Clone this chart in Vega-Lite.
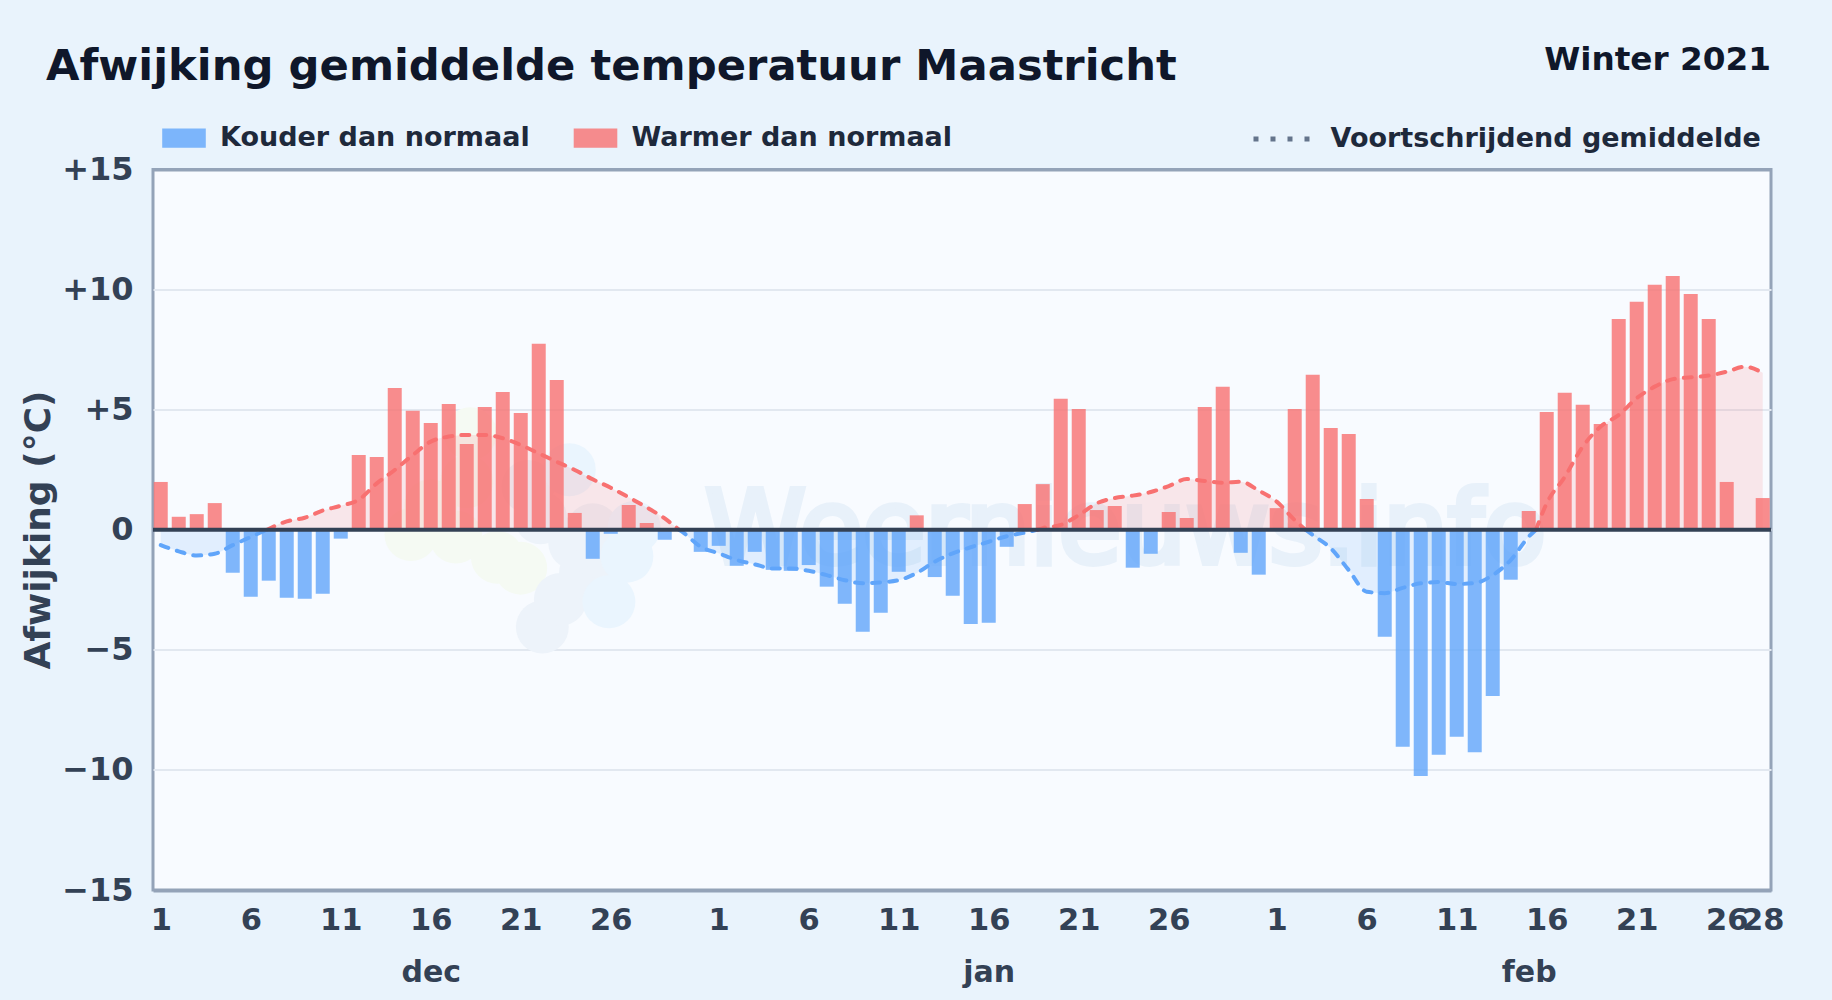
{
"$schema":"https://vega.github.io/schema/vega-lite/v6.json",
"width":1618,"height":720.5,
"autosize":{"type":"none"},
"padding":{"left":153,"top":169.5,"right":61,"bottom":110},
"background":"#e9f3fc",
"view":{"fill":"#f8fbff","stroke":"#94a3b8","strokeWidth":3},
"title":{"text":"Afwijking gemiddelde temperatuur Maastricht","anchor":"start","frame":"group","dx":-107,"offset":-45,"font":"DejaVu Sans","fontSize":43.3,"fontWeight":"bold","color":"#0f172a"},
"config":{"font":"DejaVu Sans"},
"resolve":{"axis":{"x":"independent"}},
"datasets":{
"bars":[
{"day":0,"value":1.99},{"day":1,"value":0.54},{"day":2,"value":0.65},{"day":3,"value":1.11},{"day":4,"value":-1.79},{"day":5,"value":-2.79},{"day":6,"value":-2.12},{"day":7,"value":-2.83},{"day":8,"value":-2.87},{"day":9,"value":-2.67},{"day":10,"value":-0.37},{"day":11,"value":3.11},{"day":12,"value":3.03},{"day":13,"value":5.9},{"day":14,"value":4.95},{"day":15,"value":4.45},{"day":16,"value":5.24},{"day":17,"value":3.57},{"day":18,"value":5.11},{"day":19,"value":5.74},{"day":20,"value":4.86},{"day":21,"value":7.74},{"day":22,"value":6.24},{"day":23,"value":0.7},{"day":24,"value":-1.21},{"day":25,"value":-0.17},{"day":26,"value":1.03},{"day":27,"value":0.28},{"day":28,"value":-0.42},{"day":30,"value":-0.92},
{"day":31,"value":-0.67},{"day":32,"value":-1.5},{"day":33,"value":-0.92},{"day":34,"value":-1.67},{"day":35,"value":-1.71},{"day":36,"value":-1.47},{"day":37,"value":-2.37},{"day":38,"value":-3.08},{"day":39,"value":-4.25},{"day":40,"value":-3.46},{"day":41,"value":-1.75},{"day":42,"value":0.6},{"day":43,"value":-1.97},{"day":44,"value":-2.75},{"day":45,"value":-3.92},{"day":46,"value":-3.87},{"day":47,"value":-0.71},{"day":48,"value":1.07},{"day":49,"value":1.9},{"day":50,"value":5.45},{"day":51,"value":5.03},{"day":52,"value":0.82},{"day":53,"value":0.99},{"day":54,"value":-1.58},{"day":55,"value":-1.0},{"day":56,"value":0.74},{"day":57,"value":0.49},{"day":58,"value":5.11},{"day":59,"value":5.95},{"day":60,"value":-0.96},{"day":61,"value":-1.87},
{"day":62,"value":0.9},{"day":63,"value":5.03},{"day":64,"value":6.45},{"day":65,"value":4.24},{"day":66,"value":3.99},{"day":67,"value":1.28},{"day":68,"value":-4.46},{"day":69,"value":-9.04},{"day":70,"value":-10.25},{"day":71,"value":-9.37},{"day":72,"value":-8.62},{"day":73,"value":-9.26},{"day":74,"value":-6.92},{"day":75,"value":-2.08},{"day":76,"value":0.78},{"day":77,"value":4.9},{"day":78,"value":5.7},{"day":79,"value":5.2},{"day":80,"value":4.4},{"day":81,"value":8.78},{"day":82,"value":9.49},{"day":83,"value":10.2},{"day":84,"value":10.57},{"day":85,"value":9.82},{"day":86,"value":8.78},{"day":87,"value":1.99},{"day":89,"value":1.32}
],
"avg":[
{"day":0,"ma":-0.64,"seg":1},{"day":1,"ma":-0.9,"seg":1},{"day":2,"ma":-1.07,"seg":1},{"day":3,"ma":-1.0,"seg":1},{"day":4,"ma":-0.64,"seg":1},{"day":5,"ma":-0.3,"seg":1},{"day":5.9,"ma":0,"seg":1},
{"day":5.9,"ma":0,"seg":2},{"day":7,"ma":0.35,"seg":2},{"day":8,"ma":0.5,"seg":2},{"day":9,"ma":0.8,"seg":2},{"day":10,"ma":1.0,"seg":2},{"day":11,"ma":1.25,"seg":2},{"day":12,"ma":1.93,"seg":2},{"day":13,"ma":2.49,"seg":2},{"day":14,"ma":3.11,"seg":2},{"day":15,"ma":3.67,"seg":2},{"day":16,"ma":3.88,"seg":2},{"day":17,"ma":3.95,"seg":2},{"day":18,"ma":3.95,"seg":2},{"day":19,"ma":3.81,"seg":2},{"day":20,"ma":3.53,"seg":2},{"day":21,"ma":3.18,"seg":2},{"day":22,"ma":2.83,"seg":2},{"day":23,"ma":2.49,"seg":2},{"day":24,"ma":2.1,"seg":2},{"day":25,"ma":1.75,"seg":2},{"day":26,"ma":1.35,"seg":2},{"day":27,"ma":0.93,"seg":2},{"day":28,"ma":0.47,"seg":2},{"day":28.8,"ma":0,"seg":2},
{"day":28.8,"ma":0,"seg":3},{"day":29,"ma":-0.1,"seg":3},{"day":30,"ma":-0.71,"seg":3},{"day":31,"ma":-0.98,"seg":3},{"day":32,"ma":-1.26,"seg":3},{"day":33,"ma":-1.44,"seg":3},{"day":34,"ma":-1.61,"seg":3},{"day":35,"ma":-1.61,"seg":3},{"day":36,"ma":-1.71,"seg":3},{"day":37,"ma":-1.89,"seg":3},{"day":38,"ma":-2.1,"seg":3},{"day":39,"ma":-2.23,"seg":3},{"day":40,"ma":-2.19,"seg":3},{"day":41,"ma":-2.1,"seg":3},{"day":42,"ma":-1.8,"seg":3},{"day":43,"ma":-1.33,"seg":3},{"day":44,"ma":-0.98,"seg":3},{"day":45,"ma":-0.73,"seg":3},{"day":46,"ma":-0.5,"seg":3},{"day":47,"ma":-0.27,"seg":3},{"day":48,"ma":-0.12,"seg":3},{"day":48.7,"ma":0,"seg":3},
{"day":48.7,"ma":0,"seg":4},{"day":49,"ma":0.07,"seg":4},{"day":50,"ma":0.2,"seg":4},{"day":51,"ma":0.61,"seg":4},{"day":52,"ma":1.1,"seg":4},{"day":53,"ma":1.32,"seg":4},{"day":54,"ma":1.42,"seg":4},{"day":55,"ma":1.57,"seg":4},{"day":56,"ma":1.82,"seg":4},{"day":57,"ma":2.11,"seg":4},{"day":58,"ma":2.03,"seg":4},{"day":59,"ma":1.96,"seg":4},{"day":60,"ma":2.0,"seg":4},{"day":61,"ma":1.63,"seg":4},{"day":62,"ma":1.17,"seg":4},{"day":63,"ma":0.4,"seg":4},{"day":63.6,"ma":0,"seg":4},
{"day":63.6,"ma":0,"seg":5},{"day":64,"ma":-0.22,"seg":5},{"day":65,"ma":-0.77,"seg":5},{"day":66,"ma":-1.68,"seg":5},{"day":67,"ma":-2.58,"seg":5},{"day":68,"ma":-2.64,"seg":5},{"day":69,"ma":-2.42,"seg":5},{"day":70,"ma":-2.23,"seg":5},{"day":71,"ma":-2.18,"seg":5},{"day":72,"ma":-2.26,"seg":5},{"day":73,"ma":-2.22,"seg":5},{"day":74,"ma":-1.89,"seg":5},{"day":75,"ma":-1.26,"seg":5},{"day":76,"ma":-0.29,"seg":5},{"day":76.4,"ma":0,"seg":5},
{"day":76.4,"ma":0,"seg":6},{"day":77,"ma":1.1,"seg":6},{"day":78,"ma":2.2,"seg":6},{"day":79,"ma":3.46,"seg":6},{"day":80,"ma":4.3,"seg":6},{"day":81,"ma":4.78,"seg":6},{"day":82,"ma":5.48,"seg":6},{"day":83,"ma":5.96,"seg":6},{"day":84,"ma":6.27,"seg":6},{"day":85,"ma":6.35,"seg":6},{"day":86,"ma":6.42,"seg":6},{"day":87,"ma":6.58,"seg":6},{"day":88,"ma":6.79,"seg":6},{"day":89,"ma":6.54,"seg":6}
],
"logoGrey":[{"day":21.2,"dev":-4.05},{"day":22.2,"dev":-2.9},{"day":23.6,"dev":-1.8},{"day":24.2,"dev":-0.9},{"day":23,"dev":-0.55},{"day":21.1,"dev":0.5},{"day":20.4,"dev":1.8},{"day":24,"dev":0}],
"logoBlue":[{"day":24.9,"dev":-3.0},{"day":25.9,"dev":-1.1},{"day":26.3,"dev":0.1},{"day":22.7,"dev":2.5}],
"logoGreen":[{"day":13.9,"dev":-0.2},{"day":16.4,"dev":-0.3},{"day":20,"dev":-1.6},{"day":18.7,"dev":-1.15},{"day":17.2,"dev":4},{"day":17,"dev":2},{"day":15,"dev":1}]
},
"layer":[
{"data":{"name":"logoGreen"},"mark":{"type":"point","filled":true,"shape":"circle","size":2800,"opacity":1,"color":"#f5faf3"},"encoding":{"x":{"field":"day","type":"quantitative","scale":{"domain":[-0.43,89.46],"nice":false,"zero":false,"padding":0},"axis":null},"y":{"field":"dev","type":"quantitative","scale":{"domain":[-15,15],"nice":false},"axis":{"values":[-15,-10,-5,0,5,10,15],"labelExpr":"datum.value>0?'+'+datum.value:(datum.value<0?'−'+abs(datum.value):'0')","labelFont":"DejaVu Sans","labelFontSize":32,"labelFontWeight":"bold","labelColor":"#334155","labelPadding":20,"ticks":false,"domain":false,"grid":true,"gridColor":{"condition":{"test":"abs(datum.value)==15","value":"#94a3b8"},"value":"#e2e8f0"},"gridWidth":{"condition":{"test":"abs(datum.value)==15","value":3},"value":2},"title":"Afwijking (°C)","titleFont":"DejaVu Sans","titleFontSize":36,"titleFontWeight":"bold","titleColor":"#334155","titleX":-114.5,"titleY":360,"titleBaseline":"middle"}}}},
{"data":{"name":"logoGrey"},"mark":{"type":"point","filled":true,"shape":"circle","size":2800,"opacity":1,"color":"#edf3fa"},"encoding":{"x":{"field":"day","type":"quantitative","scale":{"domain":[-0.43,89.46],"nice":false,"zero":false,"padding":0},"axis":null},"y":{"field":"dev","type":"quantitative"}}},
{"data":{"name":"logoBlue"},"mark":{"type":"point","filled":true,"shape":"circle","size":2800,"opacity":1,"color":"#eaf5fe"},"encoding":{"x":{"field":"day","type":"quantitative","scale":{"domain":[-0.43,89.46],"nice":false,"zero":false,"padding":0},"axis":null},"y":{"field":"dev","type":"quantitative"}}},
{"data":{"values":[{}]},"mark":{"type":"text","text":"Weernieuws.info","font":"DejaVu Sans","fontSize":102,"stroke":"#e8f1fa","strokeWidth":6,"fill":"#e8f1fa","align":"center","baseline":"alphabetic"},"encoding":{"x":{"datum":53.6,"type":"quantitative","scale":{"domain":[-0.43,89.46],"nice":false,"zero":false,"padding":0},"axis":{"orient":"bottom","values":[15,46,76],"labelExpr":"datum.value==15?'dec':(datum.value==46?'jan':'feb')","labelFont":"DejaVu Sans","labelFontSize":30,"labelFontWeight":"bold","labelColor":"#334155","labelPadding":67,"ticks":false,"domain":false,"grid":false,"title":null}},"y":{"datum":-1.4,"type":"quantitative"}}},
{"data":{"name":"avg"},"transform":[{"filter":"datum.seg%2==1"}],"mark":{"type":"area","interpolate":"monotone","opacity":0.15,"color":"#60a5fa"},"encoding":{"x":{"field":"day","type":"quantitative","scale":{"domain":[-0.43,89.46],"nice":false,"zero":false,"padding":0},"axis":null},"y":{"field":"ma","type":"quantitative","stack":null},"y2":{"datum":0},"detail":{"field":"seg"}}},
{"data":{"name":"avg"},"transform":[{"filter":"datum.seg%2==0"}],"mark":{"type":"area","interpolate":"monotone","opacity":0.15,"color":"#f87171"},"encoding":{"x":{"field":"day","type":"quantitative","scale":{"domain":[-0.43,89.46],"nice":false,"zero":false,"padding":0},"axis":null},"y":{"field":"ma","type":"quantitative","stack":null},"y2":{"datum":0},"detail":{"field":"seg"}}},
{"data":{"name":"avg"},"transform":[{"calculate":"datum.seg%2==0?'Warmer dan normaal':'Kouder dan normaal'","as":"kind"}],"mark":{"type":"line","interpolate":"monotone","strokeWidth":4,"strokeCap":"round","strokeDash":[8,9]},"encoding":{"x":{"field":"day","type":"quantitative","scale":{"domain":[-0.43,89.46],"nice":false,"zero":false,"padding":0},"axis":null},"y":{"field":"ma","type":"quantitative"},"detail":{"field":"seg"},"stroke":{"field":"kind","type":"nominal","scale":{"range":["#60a5fa","#f87171"]},"legend":null}}},
{"data":{"values":[{"serie":"Voortschrijdend gemiddelde"}]},"mark":{"type":"line","color":"#64748b"},"encoding":{"x":{"datum":0,"type":"quantitative","scale":{"domain":[-0.43,89.46],"nice":false,"zero":false,"padding":0},"axis":null},"y":{"datum":0,"type":"quantitative"},"strokeDash":{"field":"serie","type":"nominal","scale":{"range":[[5,12]]},"legend":{"orient":"none","legendX":1097.5,"legendY":-62,"title":null,"symbolType":"stroke","symbolSize":3250,"symbolStrokeWidth":5,"symbolStrokeColor":"#64748b","labelFont":"DejaVu Sans","labelFontSize":27,"labelFontWeight":"bold","labelColor":"#1e293b","labelLimit":600,"labelOffset":17}}}},
{"data":{"name":"bars"},"transform":[{"calculate":"datum.value<0?'Kouder dan normaal':'Warmer dan normaal'","as":"kind"}],"mark":{"type":"bar","size":14,"opacity":0.8},"encoding":{"x":{"field":"day","type":"quantitative","scale":{"domain":[-0.43,89.46],"nice":false,"zero":false,"padding":0},"axis":{"orient":"bottom","values":[0,5,10,15,20,25,31,36,41,46,51,56,62,67,72,77,82,87,89],"labelExpr":"datum.value<31?datum.value+1:(datum.value<62?datum.value-30:datum.value-61)","labelFont":"DejaVu Sans","labelFontSize":30.5,"labelFontWeight":"bold","labelColor":"#334155","labelPadding":15,"labelOverlap":false,"labelBound":false,"labelFlush":false,"ticks":false,"domain":false,"grid":false,"title":null}},"y":{"field":"value","type":"quantitative","stack":null},"color":{"field":"kind","type":"nominal","scale":{"range":["#60a5fa","#f87171"]},"legend":{"orient":"none","columns":2,"legendX":8,"legendY":-54.3,"title":null,"symbolType":"M-1,-0.44H1V0.44H-1Z","symbolSize":1900,"columnPadding":42.5,"labelFont":"DejaVu Sans","labelFontSize":27,"labelFontWeight":"bold","labelColor":"#1e293b","labelLimit":600,"labelOffset":13}}}},
{"data":{"values":[{}]},"mark":{"type":"rule","color":"#334155","strokeWidth":4},"encoding":{"y":{"datum":0,"type":"quantitative"}}},
{"data":{"values":[{}]},"mark":{"type":"text","text":"Winter 2021","font":"DejaVu Sans","fontSize":32.7,"fontWeight":"bold","color":"#0f172a","align":"right","baseline":"alphabetic"},"encoding":{"x":{"datum":89.46,"type":"quantitative","scale":{"domain":[-0.43,89.46],"nice":false,"zero":false,"padding":0},"axis":null},"y":{"datum":19.15,"type":"quantitative"}}}
]
}
